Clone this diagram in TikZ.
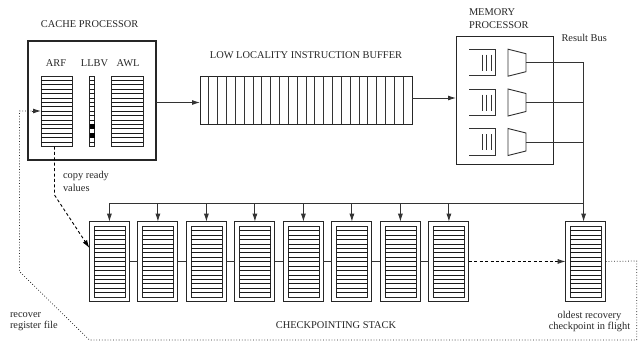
\documentclass[tikz,border=0pt]{standalone}
\usepackage{fontspec}
\setmainfont{Liberation Serif}
\usetikzlibrary{arrows.meta,calc}
\tikzset{
  box/.style={draw=black!85,line width=#1,rectangle,inner sep=0pt,outer sep=0pt},
  box/.default=0.7pt,
  lbl/.style={inner sep=0pt,outer sep=0pt,font=\fontsize{10.4}{13}\selectfont,text=black!85,anchor=west,align=left},
  tight/.style={font=\fontsize{10.4}{11}\selectfont},
  wire/.style={line width=0.9pt,draw=black!80},
  tip/.style={-{Latex[length=8pt,width=5pt]}},
  dots/.style={line width=0.75pt,draw=black!85,dash pattern=on 0.8pt off 2pt},
  dashy/.style={line width=0.9pt,draw=black,dash pattern=on 3pt off 2.4pt},
  rule/.style={line width=0.85pt,draw=black!90},
}
\newcommand{\regfile}[5]{% name, x0, y0, w, h : 16 rows
  \node[box=0.7pt,minimum width=#4pt,minimum height=#5pt,anchor=north west] (#1) at (#2,#3) {};
  \foreach \r in {1,...,15}{
    \draw[rule] ($(#1.north west)!\r/16!(#1.south west)$) -- ($(#1.north east)!\r/16!(#1.south east)$);
  }
}
\newcommand{\ckpt}[2]{% name, x
  \node[box=0.9pt,minimum width=40pt,minimum height=79.5pt,anchor=north west] (#1) at (#2,221.7) {};
  \regfile{#1in}{#2+4.6}{226.2}{31}{71}
}
\newcommand{\queue}[2]{% name, y
  \coordinate (#1a) at (469,#2-13.2);
  \coordinate (#1b) at (495.5,#2-13.2);
  \coordinate (#1c) at (495.5,#2+13.2);
  \coordinate (#1d) at (469,#2+13.2);
  \draw[wire] (#1a) -- (#1b) -- (#1c) -- (#1d);
  \foreach \q in {482,486.5,491}{\draw[wire] (\q,#2-8) -- (\q,#2+8);}
}
\newcommand{\mux}[2]{% name, y
  \coordinate (#1p) at (508,#2-13.5);
  \coordinate (#1q) at (526,#2-9);
  \coordinate (#1r) at (526,#2+9);
  \coordinate (#1s) at (508,#2+13.5);
  \draw[wire] (#1p) -- (#1q) -- (#1r) -- (#1s) -- cycle;
  \coordinate (#1out) at (526,#2);
}
\begin{document}
\begin{tikzpicture}[x=1pt,y=-1pt]
\useasboundingbox (0,0) rectangle (638,341);
% cache processor
\node[box=1.3pt,minimum width=128pt,minimum height=119pt,anchor=north west] (cache) at (28,41) {};
\node[lbl] (tcache) at (41,24.5) {CACHE PROCESSOR};
\node[lbl,anchor=center] (tarf) at (56,63.5) {ARF};
\node[lbl,anchor=center] (tllbv) at (94.5,63.5) {LLBV};
\node[lbl,anchor=center] (tawl) at (128,63.5) {AWL};
\regfile{arf}{41}{76}{31}{70.5}
\regfile{awl}{111.5}{76}{31.5}{70.5}
\node[box=0.7pt,minimum width=5pt,minimum height=70.5pt,anchor=north west] (llbv) at (89.5,76) {};
\foreach \r in {1,...,15}{
  \draw[rule] ($(llbv.north west)!\r/16!(llbv.south west)$) -- ($(llbv.north east)!\r/16!(llbv.south east)$);
}
\fill[black] ($(llbv.north west)!11/16!(llbv.south west)$) rectangle ($(llbv.north east)!12/16!(llbv.south east)$);
\fill[black] ($(llbv.north west)!13/16!(llbv.south west)$) rectangle ($(llbv.north east)!14/16!(llbv.south east)$);
% buffer
\node[lbl,anchor=center] (tbuf) at (306,55.5) {LOW LOCALITY INSTRUCTION BUFFER};
\node[box=0.9pt,minimum width=212pt,minimum height=48pt,anchor=north west] (buf) at (200,76) {};
\foreach \c in {1,...,23}{
  \draw[wire] ($(buf.north west)!\c/24!(buf.north east)$) -- ($(buf.south west)!\c/24!(buf.south east)$);
}
\draw[wire,tip] (cache.east |- 0,102.5) -- (buf.west |- 0,102.5);
% memory processor
\node[box=0.9pt,minimum width=97pt,minimum height=127.5pt,anchor=north west] (mem) at (456,36.8) {};
\node[lbl] (tmem) at (469,18.3) {MEMORY\\PROCESSOR};
\node[lbl] (tbus) at (561.5,37.5) {Result Bus};
\draw[wire,tip] (buf.east |- 0,98) -- (mem.west |- 0,98);
\queue{qa}{62.7}
\queue{qb}{102.5}
\queue{qc}{142}
\mux{ma}{62.7}
\mux{mb}{102.5}
\mux{mc}{142}
% checkpoints
\ckpt{c1}{89.4}
\ckpt{c2}{137.9}
\ckpt{c3}{186.4}
\ckpt{c4}{234.9}
\ckpt{c5}{283.4}
\ckpt{c6}{331.9}
\ckpt{c7}{380.4}
\ckpt{c8}{428.9}
\ckpt{old}{565.7}
% result bus
\coordinate (busr) at (583.6,203.7);
\coordinate (busl) at (c1.north |- busr);
\draw[wire] (maout) -- (maout -| busr) -- (busr);
\draw[wire] (mbout) -- (mbout -| busr);
\draw[wire] (mcout) -- (mcout -| busr);
\draw[wire,tip] (busr) -- (busr |- old.north);
\draw[wire] (busr) -- (busl);
\foreach \n in {c1,c2,c3,c4,c5,c6,c7,c8}{
  \draw[wire,tip] (\n.north |- busr) -- (\n.north);
}
% chain
\draw[wire] (c1.east) -- (c2.west);
\draw[wire] (c2.east) -- (c3.west);
\draw[wire] (c3.east) -- (c4.west);
\draw[wire] (c4.east) -- (c5.west);
\draw[wire] (c5.east) -- (c6.west);
\draw[wire] (c6.east) -- (c7.west);
\draw[wire] (c7.east) -- (c8.west);
\draw[dashy] (c8.east) -- ($(old.west)+(-6,0)$);
\draw[wire,tip] ($(old.west)+(-8,0)$) -- (old.west);
% copy ready values
\coordinate (cpa) at (54.5,146.5);
\coordinate (cpb) at (54.5,195);
\coordinate (cpc) at (c1.west |- 0,248);
\draw[dashy,-{Latex[length=8pt,width=5pt,sep=0pt]}] (cpa) -- (cpb) -- (cpc);
\node[lbl] (tcopy) at (63,181.5) {copy ready\\values};
% recovery path
\coordinate (ra) at (636.7,261);
\coordinate (rb) at (636.7,340);
\coordinate (rc) at (89.5,340);
\coordinate (rd) at (19.5,271.5);
\coordinate (re) at (19.5,111);
\coordinate (rf) at (32,111);
\draw[dots] (old.east) -- (ra) -- (rb) -- (rc) -- (rd) -- (re) -- (rf);
\draw[wire,tip] (rf) -- (arf.west |- rf);
\node[lbl,tight] (trec) at (10,321.5) {recover\\register file};
\node[lbl,tight,anchor=center,align=center] (told) at (589.5,321.5) {oldest recovery\\checkpoint in flight};
\node[lbl,anchor=center] (tstack) at (336,325.5) {CHECKPOINTING STACK};
\end{tikzpicture}
\end{document}
